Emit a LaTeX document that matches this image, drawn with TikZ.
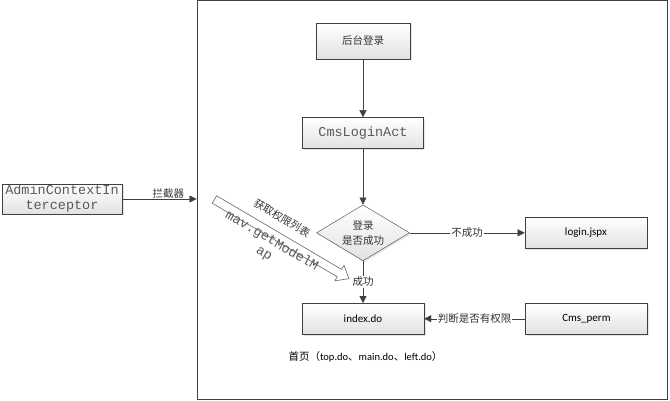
\documentclass[tikz,border=0pt]{standalone}
\usepackage{fontspec}
\setmainfont{Carlito}
\newfontfamily\cjk{Noto Sans CJK SC}
\newfontfamily\mono{Liberation Mono}
\usetikzlibrary{positioning, shapes.geometric, shadows, arrows.meta}
\definecolor{linegray}{HTML}{3F3F3F}
\definecolor{boxshade}{HTML}{E2E2E2}

\begin{document}
\begin{tikzpicture}[
         x=1pt, y=-1pt,
         block/.style={draw=linegray, top color=white, bottom color=boxshade,
            drop shadow={shadow xshift=1.5pt, shadow yshift=-1.5pt, opacity=0.2},
            minimum width=122pt, minimum height=31pt, inner sep=0pt,
            font=\fontsize{11}{13}\selectfont},
         monotext/.style={text=black!65, font=\mono\fontsize{13.5}{15}\selectfont},
         decision/.style={diamond, draw=linegray, top color=white, bottom color=boxshade,
            drop shadow={shadow xshift=1.5pt, shadow yshift=-1.5pt, opacity=0.2},
            aspect=1.66, minimum width=93pt, minimum height=56pt, inner sep=0pt,
            align=center, text=black!80, font=\cjk\fontsize{10.5}{15}\selectfont},
         relation/.style={fill=white, inner sep=1pt, text=black!80,
            font=\cjk\fontsize{10.5}{12}\selectfont},
         flow/.style={draw=linegray, -{Triangle[length=7pt, width=7pt]}},
         hollow/.style={draw=gray!80!black, fill=white, line width=0.6pt}
      ]
         \useasboundingbox (0,0) rectangle (670,401);

         % Frame round the back end
         \node[draw=linegray, line width=1pt, minimum width=470pt, minimum height=398pt,
            inner sep=0pt] (frame) at (432,200) {};

         % Nodes for the login flow
         \node[block, minimum width=94pt, minimum height=36pt, text=black!80,
            font=\cjk\fontsize{10.5}{12}\selectfont] (start) at (363,41) {后台登录};
         \node[block, monotext, minimum width=121pt, below=58pt of start] (act) {CmsLoginAct};
         \node[decision, below=56pt of act] (check) {登录\\是否成功};
         \node[block, right=115pt of check] (fail) {login.jspx};
         \node[block, below=42pt of check] (index) {index.do};
         \node[block, right=101pt of index] (perm) {Cms\_perm};
         \node[block, monotext, minimum width=120pt, minimum height=30pt, align=center]
            (inter) at (62,199) {AdminContextIn\\terceptor};
         \node[anchor=west, font=\fontsize{10.5}{12}\selectfont] (home) at (285,357)
            {{\cjk 首页（}top.do{\cjk 、}main.do{\cjk 、}left.do{\cjk ）}};

         % Arrows with labels
         \draw[flow] (start) -- (act);
         \draw[flow] (act) -- (check);
         \draw[flow] (check) -- node[relation] {不成功} (fail);
         \draw[flow] (check) -- node[relation] {成功} (index);
         \draw[flow] (perm) -- node[relation] {判断是否有权限} (index);
         \draw[flow] (inter) -- node[relation, fill=none, pos=0.62, above=-1pt] {拦截器}
            (inter -| frame.west);

         % Hollow arrow for the permission list
         \begin{scope}[shift={(214.5,199.5)}, rotate=-30.5]
            \draw[hollow] (0,-4.3) -- (145,-4.3) -- (145,-9) -- (156,0) -- (145,9)
               -- (145,4.3) -- (0,4.3) -- cycle;
         \end{scope}
         \node[relation, fill=none, rotate=-30.5] (fetch) at (282,218) {获取权限列表};
         \node[monotext, rotate=-30.5, align=center] (map) at (268,247.5)
            {mav.getModelM\\ap};

      \end{tikzpicture}
\end{document}
